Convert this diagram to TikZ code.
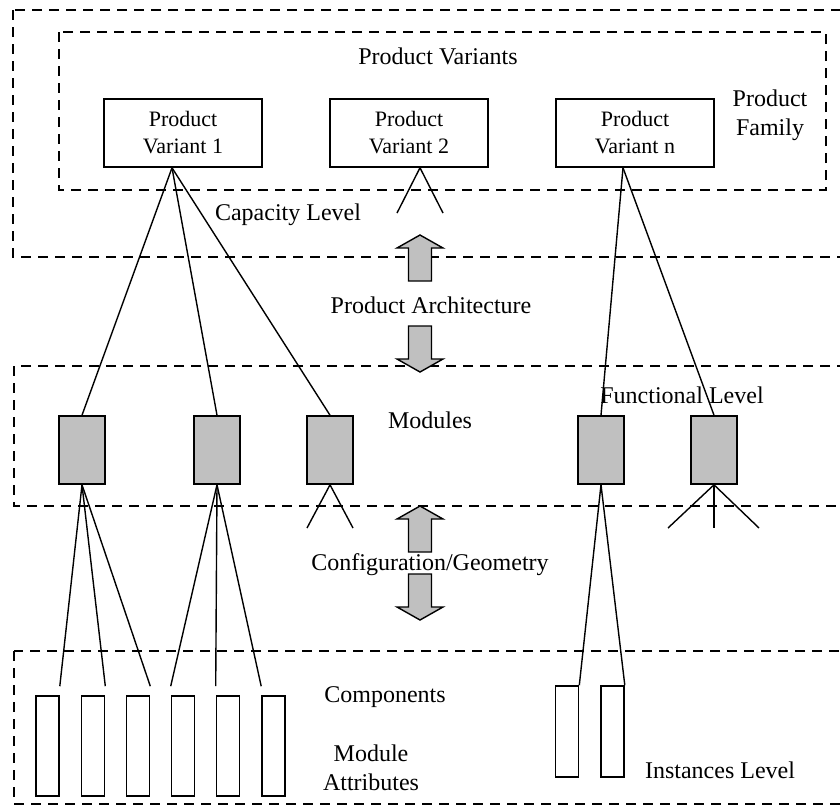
\documentclass[tikz,border=0pt]{standalone}
\usepackage{fontspec}
\setmainfont{Liberation Serif}
\usetikzlibrary{positioning}

\begin{document}
\begin{tikzpicture}[
  x=1pt,y=-1pt,
  zone/.style={line width=2pt,dash pattern=on 10pt off 7pt},
  link/.style={line width=1.4pt},
  variant/.style={draw,line width=1.6pt,minimum width=158pt,minimum height=68pt,
    inner sep=0pt,align=center,font=\fontsize{22}{27}\selectfont},
  module/.style={draw,fill=shade,line width=1.6pt,minimum width=46pt,
    minimum height=68pt,inner sep=0pt},
  part/.style={draw,line width=1.6pt,minimum width=23pt,minimum height=100pt,
    inner sep=0pt},
  heading/.style={inner sep=0pt,align=center,font=\fontsize{24}{29}\selectfont},
  pics/fatarrow/.style={code={
    \filldraw[fill=shade,line width=1.4pt] (0,0) -- (23,13) -- (11.5,13)
      -- (11.5,46) -- (-11.5,46) -- (-11.5,13) -- (-23,13) -- cycle;}}
]

\definecolor{shade}{RGB}{192,192,192}

\useasboundingbox (0,0) rectangle (840,809);
\clip (0,0) rectangle (840,809);

% dashed level frames
\draw[zone] (13,10) rectangle (860,257);
\draw[zone] (59,32) rectangle (826,190);
\draw[zone] (14,366) rectangle (860,506);
\draw[zone] (14,651) rectangle (860,804);

% capacity level
\node[heading] (variants) at (438,56) {Product Variants};
\node[variant] (pv1) at (183,133) {Product\\Variant 1};
\node[variant] (pv2) at (409,133) {Product\\Variant 2};
\node[variant] (pvn) at (635,133) {Product\\Variant n};
\node[heading] (family) at (770,115) {Product\\Family};
\node[heading] (capacity) at (288,215) {Capacity Level};

% functional level
\node[heading] (modules) at (430,420) {Modules};
\node[heading] (functional) at (682,395) {Functional Level};
\node[module] (m1) at (82,450) {};
\node[module] (m2) at (217,450) {};
\node[module] (m3) at (330,450) {};
\node[module] (m4) at (601,450) {};
\node[module] (m5) at (714,450) {};

% instances level
\node[heading] (components) at (385,697) {Components};
\node[heading] (attributes) at (371,768) {Module\\Attributes};
\node[heading] (instances) at (720,770) {Instances Level};
\foreach \i/\x in {1/47.5,2/93,3/138,4/183,5/228,6/273.5}
  \node[part] (c\i) at (\x,746) {};
\node[part,minimum height=91pt] (i1) at (567,731.5) {};
\node[part,minimum height=91pt] (i2) at (612.5,731.5) {};

% transitions between levels
\node[heading] (architecture) at (431,305) {Product Architecture};
\node[heading] (geometry) at (430,565) {Configuration/Geometry};
\pic at (420,235) {fatarrow};
\pic[rotate=180] at (420,372) {fatarrow};
\pic at (420,506) {fatarrow};
\pic[rotate=180] at (420,620) {fatarrow};

% links
\coordinate (a1) at ([xshift=-11pt]pv1.south);
\coordinate (a2) at ([xshift=11pt]pv2.south);
\coordinate (an) at ([xshift=-12pt]pvn.south);
\draw[link] (a1) -- (m1.north);
\draw[link] (a1) -- (m2.north);
\draw[link] (a1) -- (m3.north);
\draw[link] (an) -- (m4.north);
\draw[link] (an) -- (m5.north);
\draw[link] (397,213) -- (a2) -- (443,213);

\draw[link] (m1.south) -- ([yshift=9pt]c1.north east);
\draw[link] (m1.south) -- ([yshift=9pt]c2.north east);
\draw[link] (m1.south) -- ([yshift=9pt]c3.north east);
\draw[link] (m2.south) -- ([yshift=9pt]c4.north west);
\draw[link] (m2.south) -- ([yshift=9pt]c5.north west);
\draw[link] (m2.south) -- ([yshift=9pt]c6.north west);
\draw[link] (307,528) -- (m3.south) -- (353,528);
\draw[link] (m4.south) -- (i1.north east);
\draw[link] (m4.south) -- (i2.north east);
\draw[link] (668,528) -- (m5.south) -- (759,528);
\draw[link] (m5.south) -- (714,528);

\end{tikzpicture}
\end{document}
